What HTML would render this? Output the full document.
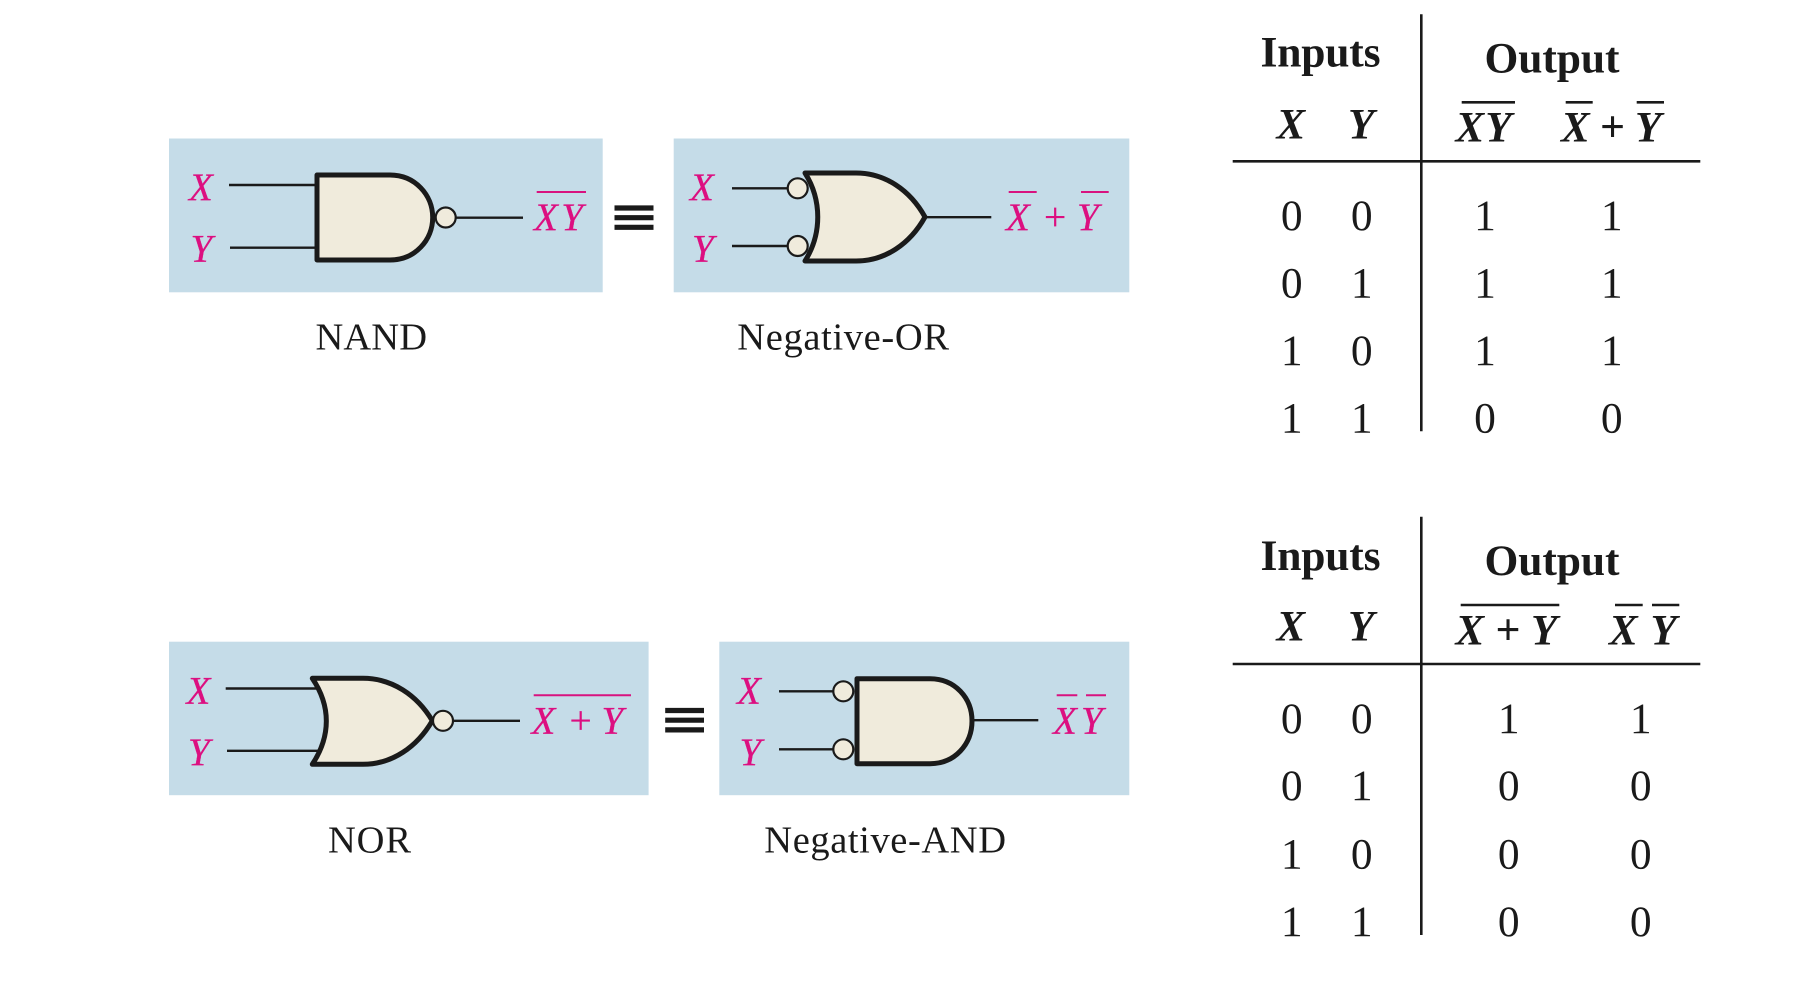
<!DOCTYPE html>
<html><head><meta charset="utf-8"><style>
html,body{margin:0;padding:0;background:#fff;width:1807px;height:1000px;overflow:hidden}
svg{display:block}
text{font-family:"Liberation Serif",serif}
.p{fill:#c5dce8}
.g{fill:#f0ebdc;stroke:#1a1a1a;stroke-width:5;stroke-linejoin:round}
.b{fill:#f0ebdc;stroke:#1a1a1a;stroke-width:2.2}
.w{stroke:#1a1a1a;stroke-width:2.4;fill:none}
.o{stroke:#d8127f;stroke-width:2;fill:none}
.t{stroke:#1a1a1a;stroke-width:2.6;fill:none}
.l{font-style:italic;font-size:39px;fill:#dc0f80;stroke:#dc0f80;stroke-width:.3}
.pl{font-size:39.5px;fill:#dc0f80;stroke:#dc0f80;stroke-width:.2}
.c{font-size:38.5px;fill:#1a1a1a}
.h{font-size:43.5px;font-weight:bold;fill:#1a1a1a}
.v{font-size:43px;font-weight:bold;font-style:italic;fill:#1a1a1a}
.vp{font-size:44px;font-weight:bold;fill:#1a1a1a}
.n{font-size:43.5px;fill:#1a1a1a;text-anchor:middle}
</style></head><body>
<svg width="1807" height="1000" viewBox="0 0 1807 1000" xmlns="http://www.w3.org/2000/svg">
<rect width="1807" height="1000" fill="#fff"/>

<!-- NAND -->
<rect class="p" x="169" y="138.5" width="433.7" height="153.8"/>
<path class="w" d="M229 185H317M230 247.7H317M456 217.7H523"/>
<path class="g" d="M317 175H390C415 175 432.7 195 432.7 217.5C432.7 240 415 260 390 260H317Z"/>
<circle class="b" cx="445.7" cy="217.5" r="10"/>
<text class="l" x="189" y="200">X</text>
<text class="l" x="190.5" y="261.7">Y</text>
<text class="l" x="534" y="230" textLength="49" lengthAdjust="spacing">XY</text>
<path class="o" d="M536.7 192H586"/>
<text class="c" x="315.5" y="349.3" textLength="111.5" lengthAdjust="spacing">NAND</text>

<!-- equiv 1 -->
<path d="M614.5 208H653.5M614.5 217.7H653.5M614.5 227.3H653.5" stroke="#1a1a1a" stroke-width="5.2" fill="none"/>

<!-- Negative-OR -->
<rect class="p" x="673.7" y="138.5" width="455.6" height="153.8"/>
<path class="w" d="M732 188.3H790M732 246H790M925 217.2H991.3"/>
<circle class="b" cx="797.7" cy="188.3" r="10"/>
<circle class="b" cx="797.7" cy="246" r="10"/>
<path class="g" d="M805 173H856C885 173 910 190 925 217C910 244 885 261 856 261H805C822 234 822 200 805 173Z"/>
<text class="l" x="690" y="200">X</text>
<text class="l" x="692" y="261.7">Y</text>
<text class="l" x="1006" y="230">X</text>
<text class="pl" x="1044" y="230">+</text>
<text class="l" x="1077" y="230">Y</text>
<path class="o" d="M1008.7 192H1036.7M1081 192H1108.7"/>
<text class="c" x="737.3" y="349.3" textLength="211.7" lengthAdjust="spacing">Negative-OR</text>

<!-- NOR -->
<rect class="p" x="169" y="641.7" width="479.6" height="153.5"/>
<path class="w" d="M225.7 688.5H318M227 750.8H320M449 720.8H520"/>
<path class="g" d="M312.3 678.3H363C392 678.3 417 695 432.3 720.7C417 747 392 764.3 363 764.3H312.3C331 736 331 706 312.3 678.3Z"/>
<circle class="b" cx="443" cy="720.8" r="10"/>
<text class="l" x="186.5" y="703.3">X</text>
<text class="l" x="188" y="765">Y</text>
<text class="l" x="531.5" y="733.3">X</text>
<text class="pl" x="569.5" y="733.3">+</text>
<text class="l" x="601.5" y="733.3">Y</text>
<path class="o" d="M533.7 695.3H631"/>
<text class="c" x="328" y="852.7" textLength="83" lengthAdjust="spacing">NOR</text>

<!-- equiv 2 -->
<path d="M665.2 710.5H704M665.2 720.2H704M665.2 729.9H704" stroke="#1a1a1a" stroke-width="5.2" fill="none"/>

<!-- Negative-AND -->
<rect class="p" x="719.3" y="641.7" width="410" height="153.5"/>
<path class="w" d="M779 691.3H835M779 749.3H835M972 720.2H1038.3"/>
<circle class="b" cx="843.3" cy="691.3" r="10"/>
<circle class="b" cx="843.3" cy="749.3" r="10"/>
<path class="g" d="M857 678.7H930C955 678.7 972 698 972 721C972 744 955 763.7 930 763.7H857Z"/>
<text class="l" x="737" y="703.3">X</text>
<text class="l" x="739.5" y="765">Y</text>
<text class="l" x="1053" y="733.3">X</text>
<text class="l" x="1081" y="733.3">Y</text>
<path class="o" d="M1056.7 695.3H1077.3M1086 695.3H1106"/>
<text class="c" x="764.3" y="852.7" textLength="241.7" lengthAdjust="spacing">Negative-AND</text>

<!-- Table 1 -->
<path class="t" d="M1421.3 14.3V431.3M1232.7 161.3H1700.3"/>
<text class="h" x="1260.5" y="66.7" textLength="120" lengthAdjust="spacing">Inputs</text>
<text class="h" x="1484.5" y="72.7" textLength="135" lengthAdjust="spacing">Output</text>
<text class="v" x="1276.5" y="138.3">X</text>
<text class="v" x="1348" y="138.3">Y</text>
<text class="v" x="1455.5" y="141.7" textLength="56" lengthAdjust="spacing">XY</text>
<path class="t" d="M1461.7 102.3H1515M1565.7 102.3H1592.7M1636.7 102.3H1664"/>
<text class="v" x="1561" y="141.7">X</text>
<text class="vp" x="1600" y="141.7">+</text>
<text class="v" x="1635" y="141.7">Y</text>
<g>
<text class="n" x="1291.7" y="230">0</text><text class="n" x="1361.7" y="230">0</text><text class="n" x="1485" y="230">1</text><text class="n" x="1611.7" y="230">1</text>
<text class="n" x="1291.7" y="297.3">0</text><text class="n" x="1361.7" y="297.3">1</text><text class="n" x="1485" y="297.3">1</text><text class="n" x="1611.7" y="297.3">1</text>
<text class="n" x="1291.7" y="365">1</text><text class="n" x="1361.7" y="365">0</text><text class="n" x="1485" y="365">1</text><text class="n" x="1611.7" y="365">1</text>
<text class="n" x="1291.7" y="432.3">1</text><text class="n" x="1361.7" y="432.3">1</text><text class="n" x="1485" y="432.3">0</text><text class="n" x="1611.7" y="432.3">0</text>
</g>

<!-- Table 2 -->
<path class="t" d="M1421.3 516.7V935M1232.7 664H1700.3"/>
<text class="h" x="1260.5" y="570" textLength="120" lengthAdjust="spacing">Inputs</text>
<text class="h" x="1484.5" y="575" textLength="135" lengthAdjust="spacing">Output</text>
<text class="v" x="1276.5" y="640.7">X</text>
<text class="v" x="1348" y="640.7">Y</text>
<text class="v" x="1455.5" y="644.7">X</text>
<text class="vp" x="1495.5" y="644.7">+</text>
<text class="v" x="1531" y="644.7">Y</text>
<path class="t" d="M1460.7 605H1559.3M1615 605H1642.7M1652 605H1679.3"/>
<text class="v" x="1609" y="644.7">X</text>
<text class="v" x="1650.5" y="644.7">Y</text>
<g>
<text class="n" x="1291.7" y="733">0</text><text class="n" x="1361.7" y="733">0</text><text class="n" x="1508.7" y="733">1</text><text class="n" x="1640.7" y="733">1</text>
<text class="n" x="1291.7" y="800">0</text><text class="n" x="1361.7" y="800">1</text><text class="n" x="1508.7" y="800">0</text><text class="n" x="1640.7" y="800">0</text>
<text class="n" x="1291.7" y="868.3">1</text><text class="n" x="1361.7" y="868.3">0</text><text class="n" x="1508.7" y="868.3">0</text><text class="n" x="1640.7" y="868.3">0</text>
<text class="n" x="1291.7" y="936">1</text><text class="n" x="1361.7" y="936">1</text><text class="n" x="1508.7" y="936">0</text><text class="n" x="1640.7" y="936">0</text>
</g>
</svg>
</body></html>
